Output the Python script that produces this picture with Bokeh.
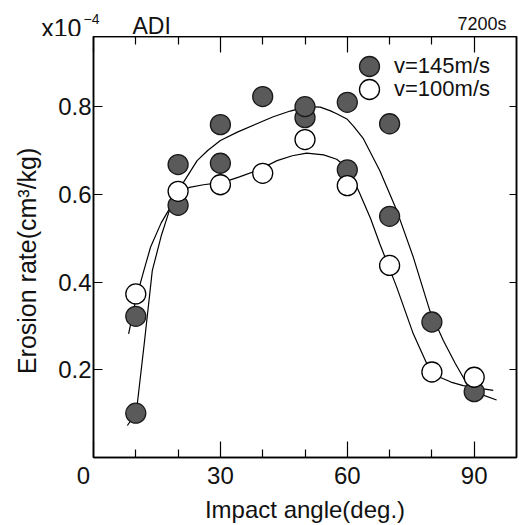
from bokeh.plotting import figure
from bokeh.layouts import column
from bokeh.models import (FixedTicker, LinearAxis, Label, Range1d, Legend, LegendItem,
                          CustomJSTickFormatter)
from bokeh.embed import file_html
from bokeh.resources import INLINE

# ---- data ----
angle_145 = [10, 10, 20, 20, 30, 30, 40, 50, 50, 60, 60, 70, 70, 80, 90]
rate_145 = [0.101, 0.322, 0.575, 0.668, 0.671, 0.759, 0.823, 0.775, 0.800,
            0.656, 0.810, 0.550, 0.761, 0.309, 0.150]

angle_100 = [10, 20, 30, 40, 50, 60, 70, 80, 90]
rate_100 = [0.373, 0.607, 0.622, 0.648, 0.725, 0.620, 0.438, 0.195, 0.183]

# hand-drawn fit curves
fit_145_x = [8.0, 10.1, 12.0, 13.9, 16.0, 18.2, 20.0, 21.3, 24.5, 27.0, 30.0, 34.0,
             38.6, 42.5, 46.5, 50.4, 53.6, 55.9, 57.5, 59.9, 61.5, 63.8, 67.7, 71.7,
             75.6, 79.5, 82.7, 85.5, 87.8, 91.3, 95.3]
fit_145_y = [0.073, 0.101, 0.26, 0.426, 0.505, 0.571, 0.60, 0.628, 0.677, 0.70, 0.723,
             0.742, 0.761, 0.777, 0.79, 0.800, 0.799, 0.791, 0.784, 0.772, 0.755, 0.727,
             0.654, 0.563, 0.457, 0.335, 0.267, 0.215, 0.176, 0.145, 0.131]

fit_100_x = [8.3, 10.0, 11.9, 13.5, 16.0, 18.2, 20.0, 22.7, 26.0, 30.8, 34.5, 38.6,
             43.4, 47.0, 50.4, 54.4, 57.5, 60.3, 63.0, 65.5, 67.7, 71.7, 75.6, 78.8,
             81.9, 84.5, 87.4, 91.0, 94.5]
fit_100_y = [0.282, 0.36, 0.426, 0.48, 0.535, 0.571, 0.60, 0.616, 0.622, 0.628, 0.64,
             0.654, 0.677, 0.688, 0.694, 0.690, 0.68, 0.658, 0.601, 0.545, 0.487, 0.388,
             0.282, 0.214, 0.183, 0.172, 0.164, 0.158, 0.153]

x_major = [0, 30, 60, 90]
x_minor = [10, 20, 40, 50, 70, 80]
y_major = [0.2, 0.4, 0.6, 0.8]
legend_labels = ["v=145m/s", "v=100m/s"]

FONT = "Liberation Sans"
INK = "#111111"
NB = "\u00a0"

# ---------------- header strip (scale, material, time) ----------------
hdr = figure(width=519, height=36, x_range=Range1d(0, 519), y_range=Range1d(0, 36),
             title=None, output_backend="svg", toolbar_location=None,
             x_axis_location=None, y_axis_location=None,
             min_border=0, outline_line_color=None,
             background_fill_color="white", border_fill_color="white")
hdr.grid.visible = False
if "frame_align" in hdr.properties():
    hdr.frame_align = False

def hlab(text, x, y, size, align="left"):
    hdr.add_layout(Label(text=text, x=x, y=y, text_font=FONT, text_font_size=size,
                         text_color=INK, text_align=align, text_baseline="alphabetic"))

hlab("x10", 81, 9, "25px", align="right")
hlab("\u22124", 83, 18, "14px")
hlab("ADI", 132, 11, "23px")
hlab("7200s", 506, 13, "18px", align="right")

# ---------------- main plot ----------------
p = figure(frame_width=423, frame_height=421,
           x_range=Range1d(0, 100), y_range=Range1d(0, 0.96),
           title=None, output_backend="svg", toolbar_location=None,
           min_border_left=93, min_border_right=2, min_border_top=0, min_border_bottom=62,
           background_fill_color="white", border_fill_color="white")
p.grid.visible = False
p.outline_line_color = "black"
p.outline_line_width = 1.5
if "frame_align" in p.properties():
    p.frame_align = False

xt = FixedTicker(ticks=x_major, minor_ticks=x_minor)
yt = FixedTicker(ticks=y_major, minor_ticks=[])

xa = p.xaxis[0]
xa.ticker = xt
xa.axis_line_width = 1.5
xa.major_tick_in = 16
xa.major_tick_out = 0
xa.minor_tick_in = 8
xa.minor_tick_out = 0
xa.major_tick_line_width = 1.2
xa.minor_tick_line_width = 1.2
xa.major_label_text_font = FONT
xa.major_label_text_font_size = "24px"
xa.major_label_text_color = INK
xa.major_label_standoff = 4
xa.major_label_overrides = {0: "0" + NB * 3}
xa.axis_label = "Impact angle(deg.)"
xa.axis_label_text_font = FONT
xa.axis_label_text_font_size = "24px"
xa.axis_label_text_font_style = "normal"
xa.axis_label_text_color = INK
xa.axis_label_standoff = 4

ya = p.yaxis[0]
ya.ticker = yt
ya.axis_line_width = 1.5
ya.major_tick_in = 9
ya.major_tick_out = 0
ya.minor_tick_in = 0
ya.minor_tick_out = 0
ya.major_tick_line_width = 1.2
ya.major_label_text_font = FONT
ya.major_label_text_font_size = "24px"
ya.major_label_text_color = INK
ya.major_label_standoff = 2
ya.axis_label = "Erosion rate(cm\u00b3/kg)" + NB * 4
ya.axis_label_text_font = FONT
ya.axis_label_text_font_size = "25px"
ya.axis_label_text_font_style = "normal"
ya.axis_label_text_color = INK
ya.axis_label_standoff = 14

blank = CustomJSTickFormatter(code="return ''")
top = LinearAxis(ticker=xt, formatter=blank, axis_line_width=1.5,
                 major_tick_in=16, major_tick_out=0, minor_tick_in=8, minor_tick_out=0,
                 major_tick_line_width=1.2, minor_tick_line_width=1.2,
                 major_label_standoff=0, major_label_text_font_size="1px")
p.add_layout(top, "above")
right = LinearAxis(ticker=yt, formatter=blank, axis_line_width=1.5,
                   major_tick_in=7, major_tick_out=0, minor_tick_in=0, minor_tick_out=0,
                   major_tick_line_width=1.2,
                   major_label_standoff=0, major_label_text_font_size="1px")
p.add_layout(right, "right")

# fit curves
p.line(fit_145_x, fit_145_y, line_color="black", line_width=1.2)
p.line(fit_100_x, fit_100_y, line_color="black", line_width=1.2)

r1 = p.scatter(angle_145, rate_145, size=20, fill_color="#5a5a5a",
               line_color="#1a1a1a", line_width=1.3)
r2 = p.scatter(angle_100, rate_100, size=20, fill_color="white",
               line_color="black", line_width=1.3)

def make_legend(label, rend, loc):
    return Legend(items=[LegendItem(label=label, renderers=[rend])],
                  location=loc, glyph_width=50, glyph_height=50, spacing=0,
                  label_standoff=-5, padding=0, margin=0, border_line_color=None,
                  background_fill_alpha=0, label_text_font=FONT,
                  label_text_font_size="22px", label_text_color=INK)

p.add_layout(make_legend(legend_labels[0], r1, (251, 366)))
p.add_layout(make_legend(legend_labels[1], r2, (251, 343)))

layout = column(hdr, p, spacing=0)
open("out.html", "w").write(file_html(layout, INLINE))
